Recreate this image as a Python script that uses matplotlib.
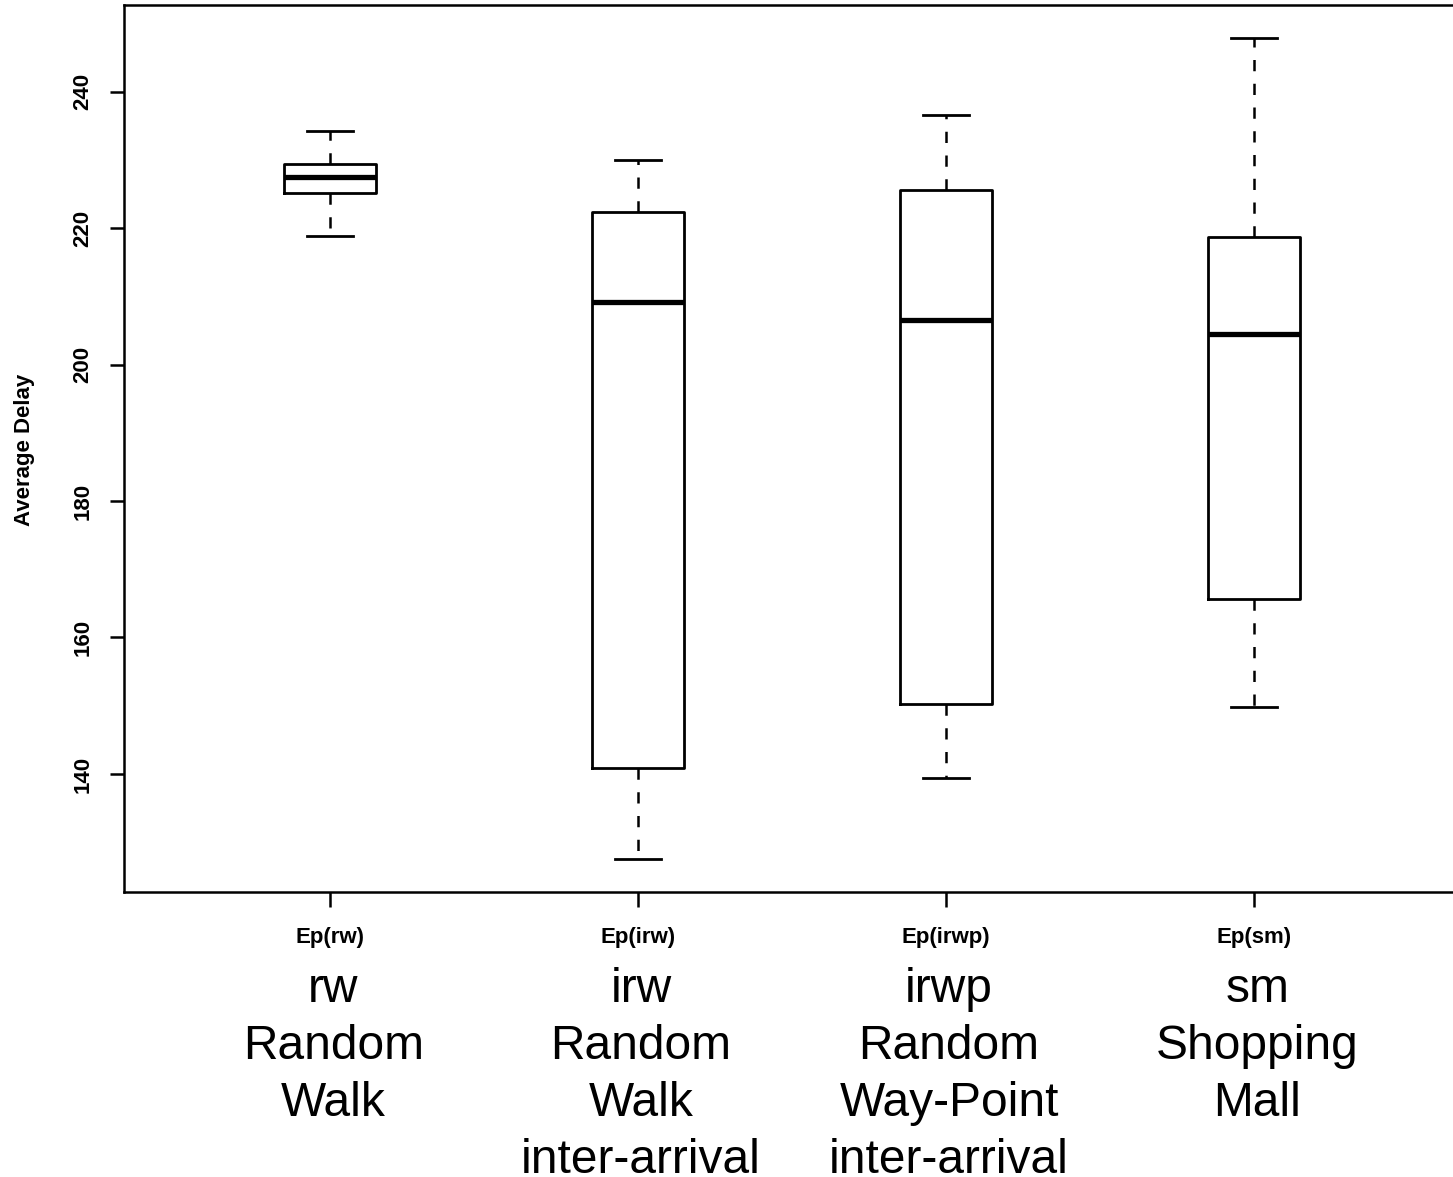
import matplotlib
matplotlib.use("Agg")
import matplotlib.pyplot as plt  # noqa

# five-number summaries
groups = ['Ep(rw)', 'Ep(irw)', 'Ep(irwp)', 'Ep(sm)']
whis_lo = [218.9, 127.5, 139.4, 149.8]
q1 = [225.2, 140.9, 150.3, 165.7]
medians = [227.5, 209.1, 206.6, 204.5]
q3 = [229.4, 222.4, 225.6, 218.7]
whis_hi = [234.3, 230.0, 236.6, 247.9]
descriptions = [
    ['rw', 'Random', 'Walk'],
    ['irw', 'Random', 'Walk', 'inter-arrival'],
    ['irwp', 'Random', 'Way-Point', 'inter-arrival'],
    ['sm', 'Shopping', 'Mall'],
]
yticks = [140, 160, 180, 200, 220, 240]

W, H = 1453, 1177
fig = plt.figure(figsize=(W / 100, H / 100), dpi=100)
plt.rcParams['font.family'] = ['Liberation Sans', 'DejaVu Sans']

# axes run a little past the right edge, like the cropped original
left, right, top, bottom = 124, 1457, 5, 892
ax = fig.add_axes([left / W, 1 - bottom / H, (right - left) / W, (bottom - top) / H])

stats = []
for i in range(len(groups)):
    stats.append(dict(whislo=whis_lo[i], q1=q1[i], med=medians[i],
                      q3=q3[i], whishi=whis_hi[i], fliers=[]))

positions = list(range(1, len(groups) + 1))
ax.bxp(stats, positions=positions, widths=0.3, capwidths=0.15,
       showfliers=False,
       boxprops=dict(color='black', linewidth=2.0),
       medianprops=dict(color='black', linewidth=3.8, solid_capstyle='butt'),
       whiskerprops=dict(color='black', linewidth=1.8, linestyle=(0, (4.5, 5))),
       capprops=dict(color='black', linewidth=2.0))

ax.set_xlim(0.331, 4.659)
ax.set_ylim(122.7, 252.7)

for sp in ax.spines.values():
    sp.set_linewidth(1.8)

ax.set_yticks(yticks)
ax.set_yticklabels([str(v) for v in yticks], rotation=90, va='center',
                   fontsize=16, fontweight='bold')
ax.set_xticks(positions)
ax.set_xticklabels(groups, fontsize=16, fontweight='bold')
ax.tick_params(axis='y', length=10, width=1.8, pad=12)
ax.tick_params(axis='x', length=10.5, width=1.8, pad=15)

fig.text(25 / W, 1 - 450 / H, 'Average Delay', rotation=90, ha='center',
         va='center', fontsize=16, fontweight='bold')

# multi-line group descriptions under the axis
trans = ax.get_xaxis_transform()
for pos, lines in zip(positions, descriptions):
    for j, line in enumerate(lines):
        y_px = 1002 + 57 * j
        y_ax = (bottom - y_px) / (bottom - top)
        ax.text(pos + 0.01, y_ax, line, transform=trans, ha='center',
                va='baseline', fontsize=34.5, clip_on=False)

fig.savefig('out.png', dpi=100)
